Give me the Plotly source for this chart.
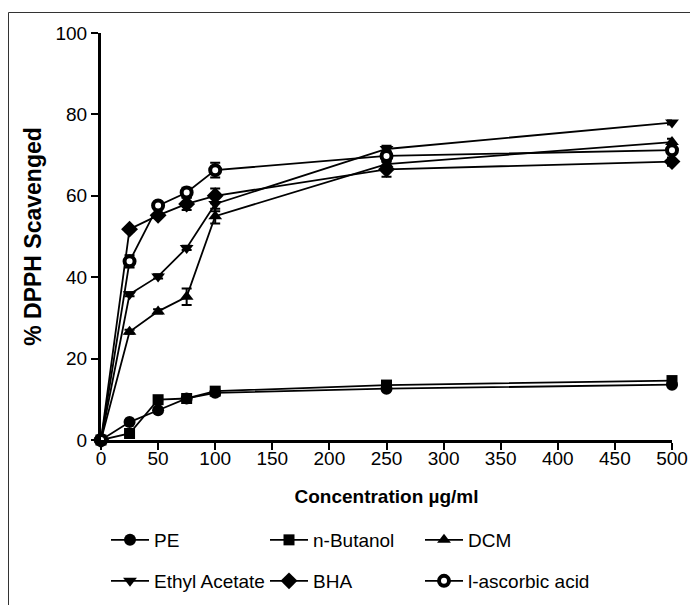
import plotly.graph_objects as go

conc = [0, 25, 50, 75, 100, 250, 500]
pe = [0, 4.4, 7.3, 10.2, 11.6, 12.6, 13.6]
n_butanol = [0, 1.6, 9.9, 10.2, 12.0, 13.5, 14.6]
dcm = [0, 26.6, 31.6, 35.2, 55.0, 67.8, 73.2]
ethyl_acetate = [0, 35.8, 40.2, 47.2, 58.0, 71.5, 78.0]
bha = [0, 51.8, 55.2, 58.0, 60.0, 66.5, 68.4]
ascorbic = [0, 43.9, 57.6, 60.8, 66.3, 69.8, 71.2]

err_pe = [0, 0.3, 0.3, 0.3, 0.4, 0.4, 0.4]
err_nb = [0, 0.3, 0.3, 0.3, 0.4, 0.4, 0.5]
err_dcm = [0, 0.5, 0.5, 2.0, 1.8, 0.8, 0.8]
err_ea = [0, 0.5, 0.5, 0.5, 1.8, 0.8, 0.5]
err_bha = [0, 0.5, 0.5, 1.5, 1.8, 1.8, 1.0]
err_asc = [0, 1.5, 0.8, 1.2, 1.8, 1.2, 0.8]

W, H = 690, 605
L, R, T, B = 101, 672, 33, 440


def px2x(px):
    return (px - L) / (R - L)


def py2y(py):
    return (B - py) / (B - T)


# legend slot (left x, centre y) for each series, in page pixels
series = [
    ("PE", pe, err_pe, dict(symbol="circle", size=12, color="black"), (106, 540)),
    ("n-Butanol", n_butanol, err_nb, dict(symbol="square", size=11, color="black"), (265, 540)),
    ("DCM", dcm, err_dcm, dict(symbol="triangle-up", size=12, color="black"), (420, 540)),
    ("Ethyl Acetate", ethyl_acetate, err_ea, dict(symbol="triangle-down", size=12, color="black"), (106, 581)),
    ("BHA", bha, err_bha, dict(symbol="diamond", size=13, color="black"), (265, 581)),
    ("l-ascorbic acid", ascorbic, err_asc,
     dict(symbol="circle", size=10, color="white", line=dict(color="black", width=4)), (420, 581)),
]

font = "Liberation Sans, Arial, sans-serif"

fig = go.Figure()
legends = {}
for i, (name, vals, err, marker, (lx, ly)) in enumerate(series):
    key = "legend" if i == 0 else f"legend{i + 1}"
    fig.add_trace(go.Scatter(
        x=conc, y=vals, name=name, mode="lines+markers",
        line=dict(color="black", width=1.8),
        marker=marker,
        error_y=dict(type="data", array=err, visible=True, color="black", thickness=2, width=5),
        cliponaxis=False,
        legend=key,
    ))
    legends[key] = dict(
        orientation="h", x=px2x(lx), y=py2y(ly), xanchor="left", yanchor="middle",
        itemwidth=38, font=dict(size=19), bgcolor="rgba(0,0,0,0)",
    )

fig.update_layout(
    width=W, height=H,
    margin=dict(l=L, r=W - R, t=T, b=H - B, autoexpand=False),
    paper_bgcolor="white", plot_bgcolor="white",
    font=dict(family=font, size=19, color="black"),
    xaxis=dict(
        range=[0, 500], tickvals=list(range(0, 501, 50)),
        showline=True, linewidth=3, linecolor="black",
        ticks="outside", ticklen=7, tickwidth=2, tickcolor="black",
        showgrid=False, zeroline=False, automargin=False,
        tickfont=dict(size=19), ticklabelstandoff=-8,
        title=dict(text="<b>Concentration µg/ml</b>", font=dict(size=19), standoff=22),
    ),
    yaxis=dict(
        range=[0, 100], tickvals=list(range(0, 101, 20)),
        showline=True, linewidth=3, linecolor="black",
        ticks="outside", ticklen=7, tickwidth=2, tickcolor="black",
        showgrid=False, zeroline=False, automargin=False,
        tickfont=dict(size=19),
        title=dict(text="<b>% DPPH Scavenged</b>", font=dict(size=23), standoff=8),
    ),
    showlegend=True,
    shapes=[
        dict(type="line", xref="paper", yref="paper",
             x0=px2x(8.5), x1=px2x(8.5), y0=py2y(12.5), y1=py2y(620),
             line=dict(color="#333", width=1)),
        dict(type="line", xref="paper", yref="paper",
             x0=px2x(8.5), x1=px2x(700), y0=py2y(12.5), y1=py2y(12.5),
             line=dict(color="#333", width=1)),
    ],
    **legends,
)

fig.write_html(
    "out.html",
    config={"displayModeBar": False},
    post_script=(
        "document.body.style.margin='0';"
        "document.body.style.overflow='hidden';"
        "document.documentElement.style.overflow='hidden';"
    ),
)
